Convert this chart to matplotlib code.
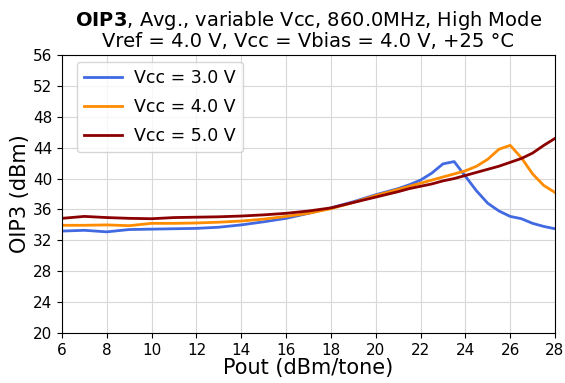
import numpy as np
import matplotlib
matplotlib.use('Agg')
import matplotlib.pyplot as plt

# Pout (dBm/tone)
pout = [6, 7, 8, 9, 10, 11, 12, 13, 14, 15, 16, 17, 18, 19, 20, 21, 21.5, 22,
        22.5, 23, 23.5, 24, 24.5, 25, 25.5, 26, 26.5, 27, 27.5, 28]

# OIP3 (dBm) per Vcc
oip3_3v = [33.2, 33.3, 33.1, 33.4, 33.45, 33.5, 33.55, 33.7, 34.0, 34.4, 34.85,
           35.5, 36.2, 37.0, 37.9, 38.7, 39.2, 39.8, 40.7, 41.9, 42.2, 40.3,
           38.4, 36.8, 35.8, 35.1, 34.8, 34.2, 33.8, 33.5]
oip3_4v = [33.95, 33.95, 34.0, 33.9, 34.2, 34.2, 34.25, 34.35, 34.5, 34.75, 35.1,
           35.5, 36.1, 36.9, 37.8, 38.6, 39.0, 39.4, 39.8, 40.2, 40.6, 41.0,
           41.6, 42.5, 43.8, 44.3, 42.7, 40.6, 39.1, 38.2]
oip3_5v = [34.85, 35.1, 34.95, 34.85, 34.8, 34.95, 35.0, 35.05, 35.15, 35.3, 35.5,
           35.8, 36.2, 36.9, 37.6, 38.3, 38.7, 39.0, 39.3, 39.7, 40.0, 40.4,
           40.8, 41.2, 41.6, 42.1, 42.6, 43.3, 44.3, 45.2]

labels = ['Vcc = 3.0 V', 'Vcc = 4.0 V', 'Vcc = 5.0 V']
colors = ['royalblue', 'darkorange', 'darkred']

fig = plt.figure(figsize=(5.65, 3.83), dpi=100)
ax = fig.add_axes([0.1097, 0.1305, 0.8726, 0.7259])

for y, lab, c in zip([oip3_3v, oip3_4v, oip3_5v], labels, colors):
    ax.plot(pout, y, color=c, lw=2, label=lab)

ax.set_xlim(6, 28)
ax.set_ylim(20, 56)
ax.set_xticks(np.arange(6, 29, 2))
ax.set_yticks(np.arange(20, 57, 4))
ax.tick_params(labelsize=11)
ax.grid(True, color='#d8d8d8', lw=0.8)
ax.set_xlabel('Pout (dBm/tone)', fontsize=15, labelpad=0)
ax.set_ylabel('OIP3 (dBm)', fontsize=15, labelpad=2)
ax.set_title(r'$\bf{OIP3}$, Avg., variable Vcc, 860.0MHz, High Mode' + '\n'
             + 'Vref = 4.0 V, Vcc = Vbias = 4.0 V, +25 °C', fontsize=14,
             linespacing=1.0, pad=6)
ax.legend(loc='upper left', bbox_to_anchor=(0.03, 0.975), borderaxespad=0,
          fontsize=12.5, handlelength=2.2, handletextpad=0.7, labelspacing=0.65)

fig.savefig('out.png', dpi=100)
